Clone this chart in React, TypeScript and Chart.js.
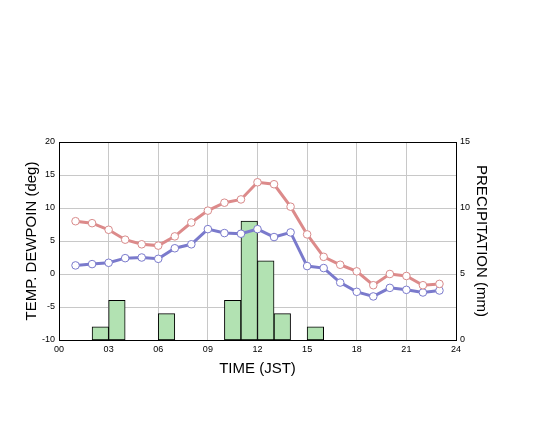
import React, { useEffect, useRef } from "react";
import { Chart, registerables } from "chart.js";

Chart.register(...registerables);

const hours = [1, 2, 3, 4, 5, 6, 7, 8, 9, 10, 11, 12, 13, 14, 15, 16, 17, 18, 19, 20, 21, 22, 23];
const temperature = [8.0, 7.7, 6.7, 5.2, 4.5, 4.3, 5.7, 7.8, 9.6, 10.8, 11.3, 13.9, 13.6, 10.2, 6.0, 2.6, 1.4, 0.4, -1.7, 0.0, -0.3, -1.7, -1.5];
const dewpoint = [1.3, 1.5, 1.7, 2.4, 2.5, 2.3, 3.9, 4.5, 6.8, 6.2, 6.1, 6.8, 5.6, 6.3, 1.2, 0.9, -1.3, -2.7, -3.4, -2.1, -2.4, -2.8, -2.5];
// precipitation per hour, indexed by the hour at which the interval ends
const precipEndHours = [3, 4, 7, 11, 12, 13, 14, 16];
const precipitation = [1, 3, 2, 3, 9, 6, 2, 1];

const xTicks = [0, 3, 6, 9, 12, 15, 18, 21, 24];
const FONT = "'Liberation Sans', Arial, sans-serif";

const framePlugin = {
  id: "frame",
  afterDraw(chart: any) {
    const { ctx, chartArea } = chart;
    ctx.save();
    ctx.strokeStyle = "#000";
    ctx.lineWidth = 1;
    ctx.strokeRect(
      Math.round(chartArea.left) + 0.5,
      Math.round(chartArea.top) + 0.5,
      Math.round(chartArea.right - chartArea.left),
      Math.round(chartArea.bottom - chartArea.top)
    );
    ctx.restore();
  },
};

export default function App() {
  const ref = useRef<HTMLCanvasElement | null>(null);
  useEffect(() => {
    if (!ref.current) return;
    const chart = new Chart(ref.current, {
      type: "bar",
      data: {
        datasets: [
          {
            type: "line",
            label: "TEMP",
            data: hours.map((h, i) => ({ x: h, y: temperature[i] })),
            borderColor: "#dc8a8a",
            borderWidth: 3,
            pointBackgroundColor: "#ffffff",
            pointBorderColor: "#d88a8a",
            pointBorderWidth: 1,
            pointRadius: 3.8,
            yAxisID: "y",
            xAxisID: "x",
            order: 1,
          } as any,
          {
            type: "line",
            label: "DEWPOINT",
            data: hours.map((h, i) => ({ x: h, y: dewpoint[i] })),
            borderColor: "#7a7acc",
            borderWidth: 3,
            pointBackgroundColor: "#ffffff",
            pointBorderColor: "#7a7acc",
            pointBorderWidth: 1,
            pointRadius: 3.8,
            yAxisID: "y",
            xAxisID: "x",
            order: 1,
          } as any,
          {
            type: "bar",
            label: "PRECIPITATION",
            data: precipEndHours.map((h, i) => ({ x: h - 0.5, y: precipitation[i] })),
            backgroundColor: "#b2e2b2",
            borderColor: "#000000",
            borderWidth: 1,
            borderSkipped: false,
            barPercentage: 1,
            categoryPercentage: 1,
            yAxisID: "y1",
            xAxisID: "x",
            order: 2,
          } as any,
        ],
      },
      options: {
        responsive: false,
        animation: false,
        events: [],
        layout: { padding: { top: 142, left: 0, right: 0, bottom: 0 } },
        plugins: { legend: { display: false }, tooltip: { enabled: false } },
        scales: {
          x: {
            type: "linear",
            min: 0,
            max: 24,
            offset: false,
            afterFit: (s: any) => {
              s.height = 85;
            },
            afterBuildTicks: (s: any) => {
              s.ticks = xTicks.map((v) => ({ value: v }));
            },
            ticks: {
              font: { family: FONT, size: 9 },
              color: "#000",
              padding: 4,
              maxRotation: 0,
              autoSkip: false,
              callback: (v: any) => String(v).padStart(2, "0"),
            },
            grid: { color: "#c8c8c8", drawTicks: false, offset: false },
            border: { color: "#000" },
            title: {
              display: true,
              text: "TIME (JST)",
              font: { family: FONT, size: 15 },
              color: "#000",
              padding: { top: 0, bottom: 47 },
            },
          },
          y: {
            type: "linear",
            position: "left",
            min: -10,
            max: 20,
            afterFit: (s: any) => {
              s.width = 59;
            },
            ticks: {
              stepSize: 5,
              font: { family: FONT, size: 9 },
              color: "#000",
              padding: 4,
            },
            grid: { color: "#c8c8c8", drawTicks: false },
            border: { color: "#000" },
            title: {
              display: true,
              text: "TEMP. DEWPOIN (deg)",
              font: { family: FONT, size: 15 },
              color: "#000",
              padding: { top: 23, bottom: 0 },
            },
          },
          y1: {
            type: "linear",
            position: "right",
            min: 0,
            max: 15,
            afterFit: (s: any) => {
              s.width = 94;
            },
            ticks: {
              stepSize: 5,
              font: { family: FONT, size: 9 },
              color: "#000",
              padding: 4,
            },
            grid: { display: false, drawTicks: false },
            border: { color: "#000" },
            title: {
              display: true,
              text: "PRECIPITATION (mm)",
              font: { family: FONT, size: 15 },
              color: "#000",
              padding: { top: 60, bottom: 0 },
            },
          },
        },
      },
      plugins: [framePlugin],
    });
    return () => chart.destroy();
  }, []);
  return (
    <div style={{ position: "absolute", left: 0, top: 0, width: 550, height: 425, background: "#fff" }}>
      <canvas ref={ref} width={550} height={425} style={{ display: "block" }} />
    </div>
  );
}
